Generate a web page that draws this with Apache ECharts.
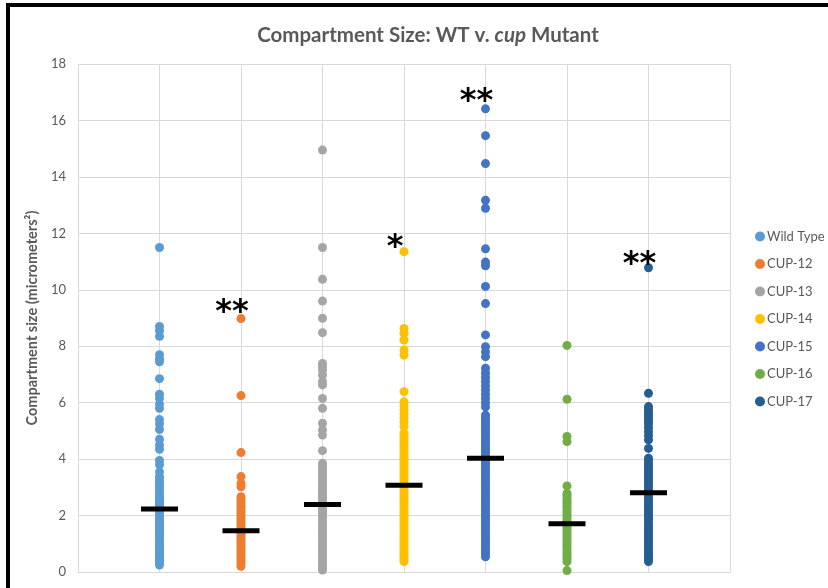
<!DOCTYPE html>
<html>
<head>
<meta charset="utf-8">
<script src="https://cdn.jsdelivr.net/npm/echarts@6/dist/echarts.min.js"></script>
<style>
html,body{margin:0;padding:0;background:#fff;}
#chart{width:828px;height:588px;}
</style>
</head>
<body>
<div id="chart"></div>
<script>
// ---- data ----
const groupNames = ["Wild Type", "CUP-12", "CUP-13", "CUP-14", "CUP-15", "CUP-16", "CUP-17"];
const groupX = [1, 2, 3, 4, 5, 6, 7];
const yTicks = [0, 2, 4, 6, 8, 10, 12, 14, 16, 18];

const wildType = [11.5, 8.7, 8.55, 8.35, 7.7, 7.55, 7.45, 6.85, 6.3, 6.15, 5.95, 5.8, 5.4, 5.25, 5.05, 4.7, 4.5, 4.35,
  3.95, 3.8, 3.55, 3.38, 3.3, 3.21, 3.1, 3.02, 2.95, 2.85, 2.76, 2.66, 2.58, 2.5, 2.41, 2.33, 2.25, 2.14, 2.06, 1.97,
  1.9, 1.8, 1.72, 1.63, 1.55, 1.47, 1.38, 1.3, 1.21, 1.12, 1.05, 0.96, 0.88, 0.8, 0.71, 0.63, 0.55, 0.47, 0.4, 0.33, 0.25];
const cup12 = [8.98, 6.25, 4.23, 3.38, 3.14, 3.02, 2.67, 2.58, 2.5, 2.41, 2.32, 2.24, 2.15, 2.07, 1.98, 1.9, 1.82, 1.73,
  1.65, 1.56, 1.48, 1.39, 1.31, 1.22, 1.14, 1.05, 0.97, 0.89, 0.8, 0.72, 0.63, 0.55, 0.46, 0.38, 0.29, 0.2];
const cup13 = [14.95, 11.5, 10.37, 9.6, 8.99, 8.48, 7.39, 7.28, 7.16, 6.98, 6.74, 6.63, 6.15, 5.8, 5.27, 5.03, 4.85, 4.3,
  3.85, 3.75, 3.65, 3.55, 3.45, 3.35, 3.25, 3.16, 3.06, 2.97, 2.87, 2.78, 2.68, 2.59, 2.49, 2.4, 2.3, 2.21, 2.11, 2.02,
  1.92, 1.83, 1.73, 1.64, 1.54, 1.45, 1.35, 1.26, 1.16, 1.07, 0.97, 0.88, 0.78, 0.69, 0.59, 0.5, 0.4, 0.31, 0.21, 0.12, 0.07];
const cup14 = [11.35, 8.63, 8.46, 8.22, 7.87, 7.69, 6.39, 6.03, 5.9, 5.75, 5.6, 5.45, 5.3, 5.15, 4.91, 4.82, 4.72, 4.63,
  4.53, 4.44, 4.35, 4.26, 4.16, 4.07, 3.98, 3.88, 3.79, 3.7, 3.61, 3.51, 3.42, 3.33, 3.23, 3.14, 3.05, 2.95, 2.86, 2.77,
  2.68, 2.58, 2.49, 2.4, 2.3, 2.21, 2.12, 2.03, 1.93, 1.84, 1.75, 1.65, 1.56, 1.47, 1.38, 1.28, 1.19, 1.1, 1.0, 0.91,
  0.82, 0.73, 0.63, 0.54, 0.45, 0.37];
const cup15 = [16.41, 15.46, 14.47, 13.17, 12.89, 11.45, 10.98, 10.85, 10.12, 9.51, 8.4, 7.98, 7.8, 7.63, 7.22, 7.05, 6.9,
  6.75, 6.6, 6.45, 6.3, 6.15, 6.0, 5.85, 5.56, 5.46, 5.37, 5.27, 5.18, 5.08, 4.99, 4.89, 4.8, 4.7, 4.61, 4.51, 4.42,
  4.32, 4.23, 4.13, 4.04, 3.94, 3.85, 3.75, 3.66, 3.56, 3.47, 3.37, 3.28, 3.18, 3.09, 2.99, 2.9, 2.8, 2.71, 2.61, 2.52,
  2.42, 2.33, 2.23, 2.14, 2.04, 1.95, 1.85, 1.76, 1.66, 1.57, 1.47, 1.38, 1.28, 1.19, 1.09, 1.0, 0.9, 0.81, 0.71, 0.62, 0.54];
const cup16 = [8.03, 6.12, 4.8, 4.62, 3.05, 2.79, 2.7, 2.6, 2.51, 2.42, 2.33, 2.23, 2.14, 2.05, 1.96, 1.86, 1.77, 1.68,
  1.59, 1.49, 1.4, 1.31, 1.22, 1.12, 1.03, 0.94, 0.85, 0.75, 0.66, 0.57, 0.47, 0.37, 0.05];
const cup17 = [10.78, 6.33, 5.86, 5.76, 5.66, 5.56, 5.46, 5.36, 5.26, 5.12, 4.98, 4.83, 4.68, 4.38, 4.03, 3.94, 3.84,
  3.75, 3.65, 3.56, 3.46, 3.37, 3.27, 3.18, 3.08, 2.99, 2.89, 2.8, 2.7, 2.61, 2.51, 2.42, 2.32, 2.23, 2.13, 2.04, 1.94,
  1.85, 1.75, 1.66, 1.56, 1.47, 1.37, 1.28, 1.18, 1.09, 0.99, 0.9, 0.8, 0.71, 0.61, 0.52, 0.44, 0.37];
const groupValues = [wildType, cup12, cup13, cup14, cup15, cup16, cup17];

const groupMeans = [2.23, 1.46, 2.39, 3.07, 4.03, 1.71, 2.81];

const sigLabels = ["**", "*", "**", "**"];
const sigX = [2, 4, 5, 7];
const sigY = [9.46, 11.76, 16.94, 11.16];

// ---- styles ----
const colors = ["#5B9BD5", "#ED7D31", "#A5A5A5", "#FFC000", "#4472C4", "#70AD47", "#255E91"];
const FONT = "Lato, 'Open Sans', sans-serif";
const gridColor = "#D9D9D9";
const textColor = "#595959";

const series = groupNames.map((name, i) => ({
  name: name,
  type: "scatter",
  symbol: "circle",
  symbolSize: 9,
  itemStyle: { color: colors[i], opacity: 1 },
  data: groupValues[i].map(v => [groupX[i], v]),
  z: 2
}));

series.push({
  name: "mean",
  type: "scatter",
  symbol: "rect",
  symbolSize: [37, 5],
  itemStyle: { color: "#000", opacity: 1 },
  data: groupMeans.map((m, i) => [groupX[i], m]),
  z: 5
});

series.push({
  name: "significance",
  type: "scatter",
  symbolSize: 0,
  itemStyle: { color: "transparent", opacity: 1 },
  data: sigX.map((x, i) => ({ value: [x, sigY[i]], label: { formatter: sigLabels[i] } })),
  label: {
    show: true,
    position: "inside",
    offset: [-9, 8],
    color: "#000",
    fontFamily: "'DejaVu Sans', sans-serif",
    fontWeight: "bold",
    fontSize: 32
  },
  z: 6
});

const chart = echarts.init(document.getElementById("chart"), null, { renderer: "canvas" });
chart.setOption({
  backgroundColor: "#fff",
  animation: false,
  title: {
    text: "{n|Compartment Size: WT v. }{i|cup}{n| Mutant}",
    left: 423,
    textAlign: "center",
    top: 20,
    textStyle: {
      rich: {
        n: { fontFamily: FONT, fontSize: 20.5, fontWeight: "bold", color: textColor },
        i: { fontFamily: FONT, fontSize: 20.5, fontWeight: "bold", fontStyle: "italic", color: textColor }
      }
    }
  },
  legend: {
    data: groupNames,
    orient: "vertical",
    left: 750,
    top: 225,
    icon: "circle",
    itemWidth: 10,
    itemHeight: 10,
    itemGap: 14.5,
    textStyle: { fontFamily: FONT, fontSize: 13, color: textColor, padding: [0, 0, 0, -3] }
  },
  grid: { left: 78, right: 98, top: 64, bottom: 16, containLabel: false },
  xAxis: {
    type: "value",
    min: 0,
    max: 8,
    interval: 1,
    axisLabel: { show: false },
    axisTick: { show: false },
    axisLine: { show: true, lineStyle: { color: gridColor } },
    splitLine: { show: true, lineStyle: { color: gridColor, width: 1 } }
  },
  yAxis: {
    type: "value",
    min: yTicks[0],
    max: yTicks[yTicks.length - 1],
    interval: yTicks[1] - yTicks[0],
    name: "Compartment size (micrometers²)",
    nameLocation: "middle",
    nameGap: 32,
    nameTextStyle: { fontFamily: FONT, fontSize: 14.5, fontWeight: "bold", color: textColor },
    axisLabel: { fontFamily: FONT, fontSize: 13, color: textColor, margin: 12 },
    axisTick: { show: false },
    axisLine: { show: false },
    splitLine: { show: true, lineStyle: { color: gridColor, width: 1 } }
  },
  graphic: [
    { type: "rect", shape: { x: 6, y: 3, width: 4, height: 585 }, style: { fill: "#000" }, silent: true },
    { type: "rect", shape: { x: 6, y: 3, width: 822, height: 4 }, style: { fill: "#000" }, silent: true }
  ],
  series: series
});
</script>
</body>
</html>
